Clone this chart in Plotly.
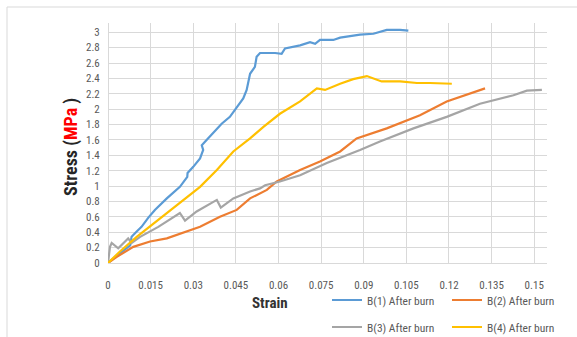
import plotly.graph_objects as go

# ---- data ----
b1_strain = [0, 0.0019, 0.0078, 0.0083, 0.0101, 0.0118, 0.0142, 0.0165, 0.0207, 0.0253, 0.0279, 0.0280,
             0.0300, 0.0324, 0.0335, 0.0330, 0.0347, 0.0383, 0.0400, 0.0429, 0.0453, 0.0476, 0.0488,
             0.0494, 0.0500, 0.0517, 0.0523, 0.0535, 0.0588, 0.0611, 0.0623, 0.0676, 0.0711, 0.0729,
             0.0746, 0.0793, 0.0817, 0.0887, 0.0934, 0.0981, 0.1028, 0.1057]
b1_stress = [0, 0.06, 0.23, 0.34, 0.41, 0.47, 0.59, 0.69, 0.84, 0.99, 1.12, 1.17,
             1.25, 1.36, 1.47, 1.53, 1.60, 1.74, 1.81, 1.90, 2.03, 2.14, 2.25,
             2.35, 2.46, 2.55, 2.68, 2.73, 2.73, 2.72, 2.79, 2.83, 2.87, 2.85,
             2.90, 2.90, 2.93, 2.97, 2.98, 3.03, 3.03, 3.02]

b2_strain = [0, 0.0031, 0.0089, 0.0148, 0.0207, 0.0265, 0.0324, 0.0394, 0.0453, 0.0500, 0.0559, 0.0594,
             0.0676, 0.0746, 0.0817, 0.0875, 0.0981, 0.1098, 0.1192, 0.1327]
b2_stress = [0, 0.08, 0.21, 0.28, 0.32, 0.39, 0.47, 0.60, 0.69, 0.84, 0.95, 1.06,
             1.21, 1.32, 1.45, 1.62, 1.75, 1.92, 2.10, 2.27]

b3_strain = [0, 0.0007, 0.0013, 0.0036, 0.0071, 0.0083, 0.0113, 0.0177, 0.0253, 0.0271, 0.0312, 0.0383,
             0.0397, 0.0441, 0.0500, 0.0535, 0.0553, 0.0605, 0.0676, 0.0770, 0.0887, 0.0957, 0.1075,
             0.1192, 0.1309, 0.1427, 0.1474, 0.1527]
b3_stress = [0, 0.21, 0.26, 0.19, 0.32, 0.26, 0.34, 0.47, 0.65, 0.55, 0.67, 0.82,
             0.72, 0.84, 0.93, 0.97, 1.01, 1.06, 1.14, 1.30, 1.47, 1.58, 1.75,
             1.90, 2.07, 2.18, 2.24, 2.25]

b4_strain = [0, 0.0042, 0.0101, 0.0207, 0.0324, 0.0383, 0.0441, 0.0500, 0.0547, 0.0605, 0.0652, 0.0676,
             0.0735, 0.0764, 0.0817, 0.0863, 0.0911, 0.0934, 0.0963, 0.1028, 0.1087, 0.1133, 0.1210]
b4_stress = [0, 0.15, 0.34, 0.65, 0.99, 1.21, 1.45, 1.62, 1.77, 1.94, 2.05, 2.10,
             2.27, 2.25, 2.33, 2.39, 2.43, 2.40, 2.36, 2.36, 2.34, 2.34, 2.33]

series_names = ["B(1) After burn", "B(2) After burn", "B(3) After burn", "B(4) After burn"]
series_colors = ["#5B9BD5", "#ED7D31", "#A5A5A5", "#FFC000"]

x_tick_vals = [0, 0.015, 0.03, 0.045, 0.06, 0.075, 0.09, 0.105, 0.12, 0.135, 0.15]
x_tick_text = ["0", "0.015", "0.03", "0.045", "0.06", "0.075", "0.09", "0.105", "0.12", "0.135", "0.15"]
y_tick_vals = [0, 0.2, 0.4, 0.6, 0.8, 1, 1.2, 1.4, 1.6, 1.8, 2, 2.2, 2.4, 2.6, 2.8, 3]
y_tick_text = ["0", "0.2", "0.4", "0.6", "0.8", "1", "1.2", "1.4", "1.6", "1.8", "2", "2.2", "2.4", "2.6", "2.8", "3"]

FONT = "Liberation Sans Narrow, Roboto Condensed, Roboto, Liberation Sans, sans-serif"

W, H = 577, 337
L, R, T, B = 108, 30, 23, 74
pw, ph = W - L - R, H - T - B


def px_x(p):
    return (p - L) / pw


def px_y(p):
    return (H - B - p) / ph


fig = go.Figure()
all_x = [b1_strain, b2_strain, b3_strain, b4_strain]
all_y = [b1_stress, b2_stress, b3_stress, b4_stress]
legend_ids = ["legend", "legend2", "legend3", "legend4"]
# legend anchor pixels (left, vertical centre)
legend_pos = [(327, 300), (447, 300), (327, 327), (447, 327)]

for xs, ys, name, col, lg in zip(all_x, all_y, series_names, series_colors, legend_ids):
    fig.add_trace(go.Scatter(x=xs, y=ys, mode="lines", name=name,
                             line=dict(color=col, width=2.2), legend=lg))

legend_layouts = {}
for lg, (lx, ly) in zip(legend_ids, legend_pos):
    legend_layouts[lg] = dict(orientation="h", x=px_x(lx), y=px_y(ly), xanchor="left", yanchor="middle",
                              bgcolor="rgba(0,0,0,0)", itemwidth=30,
                              font=dict(family=FONT, size=11.5, color="#595959"))

grid = "#D9D9D9"
fig.update_layout(
    width=W, height=H,
    margin=dict(l=L, r=R, t=T, b=B, autoexpand=False),
    paper_bgcolor="white", plot_bgcolor="white",
    font=dict(family=FONT, size=11, color="#595959"),
    xaxis=dict(range=[0, 0.1545], tickvals=x_tick_vals, ticktext=x_tick_text,
               showgrid=True, gridcolor=grid, gridwidth=1,
               zeroline=True, zerolinecolor=grid, zerolinewidth=1,
               showline=False, ticks="outside", ticklen=12, tickcolor="rgba(0,0,0,0)",
               tickfont=dict(family=FONT, size=11, color="#595959")),
    yaxis=dict(range=[0, 3.12], tickvals=y_tick_vals, ticktext=y_tick_text,
               showgrid=True, gridcolor=grid, gridwidth=1,
               zeroline=True, zerolinecolor=grid, zerolinewidth=1,
               showline=False, ticks="outside", ticklen=5, tickcolor="rgba(0,0,0,0)",
               tickfont=dict(family=FONT, size=11, color="#595959")),
    showlegend=True,
    annotations=[
        dict(text="<b>Strain</b>", x=px_x(270), y=px_y(303), xref="paper", yref="paper",
             xanchor="center", yanchor="middle", showarrow=False,
             font=dict(family=FONT, size=15, color="#333333")),
        dict(text="<b>Stress (<span style='color:#FF0000'>MPa</span> )</b>", x=px_x(71), y=px_y(147),
             xref="paper", yref="paper", xanchor="center", yanchor="middle", textangle=-90,
             showarrow=False, font=dict(family=FONT, size=18, color="#262626")),
    ],
    shapes=[
        dict(type="line", xref="paper", yref="paper", x0=px_x(7), x1=px_x(577), y0=px_y(7), y1=px_y(7),
             line=dict(color="#D9D9D9", width=1)),
        dict(type="line", xref="paper", yref="paper", x0=px_x(7), x1=px_x(7), y0=px_y(7), y1=px_y(337),
             line=dict(color="#D9D9D9", width=1)),
    ],
    **legend_layouts,
)

fig.write_html("out.html", config={"displayModeBar": False},
               post_script="document.body.style.margin='0';")
